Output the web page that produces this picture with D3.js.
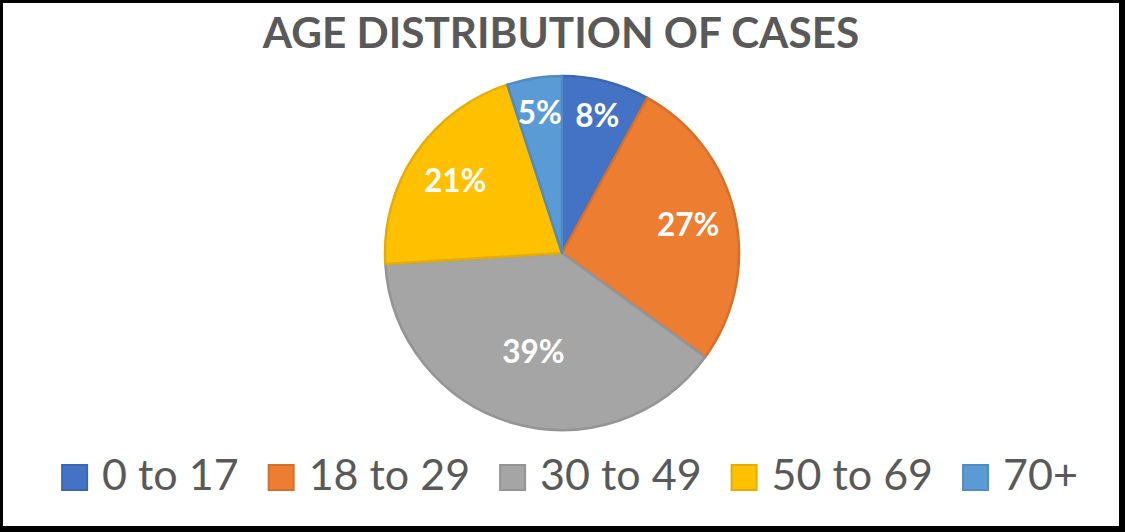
<!DOCTYPE html>
<html>
<head>
<meta charset="utf-8">
<script src="https://cdn.jsdelivr.net/npm/d3@7"></script>
<style>
  html, body { margin: 0; padding: 0; background: #fff; }
  svg { display: block; }
</style>
</head>
<body>
<svg id="chart" width="1125" height="532"></svg>
<script>
const categories = ["0 to 17", "18 to 29", "30 to 49", "50 to 69", "70+"];
const values = [8, 27, 39, 21, 5];
const colors = ["#4472C4", "#ED7D31", "#A5A5A5", "#FFC000", "#5B9BD5"];
const title = "AGE DISTRIBUTION OF CASES";

const W = 1125, H = 532;
const svg = d3.select("#chart");

// frame
svg.append("rect").attr("x", 0).attr("y", 0).attr("width", W).attr("height", H).attr("fill", "#000");
svg.append("rect").attr("x", 3).attr("y", 3).attr("width", W - 9).attr("height", H - 9).attr("fill", "#fff");

// title
svg.append("text")
  .attr("x", 561).attr("y", 48)
  .attr("text-anchor", "middle")
  .attr("font-family", "Lato, 'Open Sans', sans-serif")
  .attr("font-weight", "bold")
  .attr("font-size", 42.3)
  .attr("fill", "#595959")
  .text(title);

// pie
const cx = 562, cy = 253, R = 177;
const data = categories.map((c, i) => ({ cat: c, value: values[i], color: colors[i] }));
const pie = d3.pie().value(d => d.value).sort(null);
const arcs = pie(data);
const arc = d3.arc().innerRadius(0).outerRadius(R);

const g = svg.append("g").attr("transform", `translate(${cx},${cy})`);
g.selectAll("path.slice").data(arcs).enter().append("path")
  .attr("class", "slice")
  .attr("d", arc)
  .attr("fill", d => d.data.color)
  .attr("stroke", d => d3.color(d.data.color).darker(0.3))
  .attr("stroke-width", 2.5)
  .attr("stroke-linejoin", "round");

function labelFrac(d) {
  const share = d.value / d3.sum(values);
  if (share < 0.1) return 0.80;
  if (share > 0.35) return 0.58;
  return 0.73;
}
g.selectAll("text.lbl").data(arcs).enter().append("text")
  .attr("class", "lbl")
  .attr("transform", d => {
    const a = (d.startAngle + d.endAngle) / 2;
    const r = R * labelFrac(d);
    return `translate(${Math.sin(a) * r},${-Math.cos(a) * r})`;
  })
  .attr("text-anchor", "middle")
  .attr("dy", "0.36em")
  .attr("font-family", "Lato, 'Open Sans', sans-serif")
  .attr("font-weight", "bold")
  .attr("font-size", 31.5)
  .attr("fill", "#fff")
  .text(d => d.value + "%");

// legend
const legFont = 43, sw = 25, gapSwText = 15, gapItems = 30;
const leg = svg.append("g");
const items = leg.selectAll("g.item").data(data).enter().append("g").attr("class", "item");
items.append("rect")
  .attr("width", sw).attr("height", sw)
  .attr("y", 465)
  .attr("fill", d => d.color)
  .attr("stroke", d => d3.color(d.color).darker(0.3))
  .attr("stroke-width", 2);
items.append("text")
  .attr("y", 490)
  .attr("font-family", "Lato, 'Open Sans', sans-serif")
  .attr("font-size", legFont)
  .attr("fill", "#595959")
  .text(d => d.cat);
let x = 0;
items.each(function() {
  const it = d3.select(this);
  const tw = it.select("text").node().getComputedTextLength();
  it.select("rect").attr("x", x);
  it.select("text").attr("x", x + sw + gapSwText);
  x += sw + gapSwText + tw + gapItems;
});
const total = x - gapItems;
leg.attr("transform", `translate(${570 - total / 2},0)`);
</script>
</body>
</html>
